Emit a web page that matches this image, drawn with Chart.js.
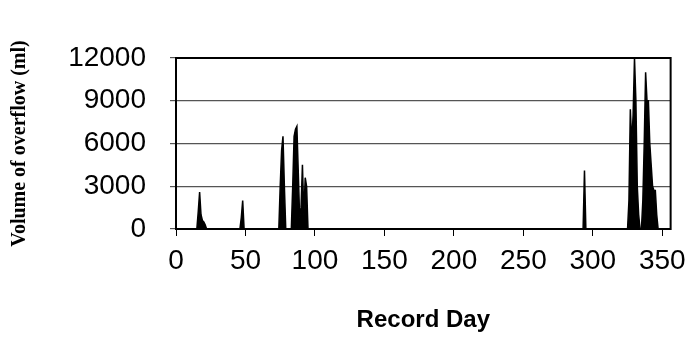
<!DOCTYPE html>
<html>
<head>
<meta charset="utf-8">
<script src="https://cdn.jsdelivr.net/npm/chart.js@4/dist/chart.umd.min.js"></script>
<style>
  html, body { margin: 0; padding: 0; background: #fff; }
  #wrap { width: 694px; height: 339px; }
</style>
</head>
<body>
<div id="wrap"><canvas id="overflowChart" width="694" height="339"></canvas></div>
<script>
// record days and overflow volume (ml)
const days = [
  0, 15, 16, 17, 18, 19, 20, 21, 22,
  46, 47, 48, 49,
  74, 75, 76, 77, 78, 79,
  83, 84, 85, 86, 87, 88, 89, 90, 91, 92, 93, 94, 95,
  293, 294, 295,
  325, 326, 327, 328, 329, 330, 331, 332, 333, 334,
  335, 336, 337, 338, 339, 340, 341, 342, 343, 344, 345, 346, 347,
  356
];
const volumes = [
  0, 0, 1200, 2600, 1000, 600, 500, 300, 0,
  0, 800, 2000, 0,
  0, 3000, 5500, 6500, 3000, 0,
  0, 3000, 6500, 7000, 7200, 4000, 800, 1500, 4500, 1000, 3600, 3000, 0,
  0, 4100, 0,
  0, 2000, 8400, 6000, 8000, 12000, 9000, 3000, 1000, 0,
  0, 2000, 6000, 11000, 9000, 9000, 6000, 4500, 3000, 2700, 2700, 1000, 0,
  0
];
const xTicks = [0, 50, 100, 150, 200, 250, 300, 350];
const yTicks = [0, 3000, 6000, 9000, 12000];

// 플롯 테두리
const frame = {
  id: 'frame',
  afterDraw(chart) {
    const { ctx, chartArea: a } = chart;
    ctx.save();
    ctx.strokeStyle = '#000';
    ctx.lineWidth = 2;
    ctx.strokeRect(a.left, a.top, a.right - a.left, a.bottom - a.top);
    ctx.restore();
  }
};

new Chart(document.getElementById('overflowChart'), {
  type: 'line',
  data: {
    datasets: [{
      data: days.map((d, i) => ({ x: d, y: volumes[i] })),
      borderColor: '#000',
      backgroundColor: '#000',
      borderWidth: 1.5,
      pointRadius: 0,
      fill: 'origin',
      tension: 0
    }]
  },
  plugins: [frame],
  options: {
    responsive: false,
    animation: false,
    layout: { padding: { left: 4, right: 21, top: 58, bottom: 0 } },
    plugins: { legend: { display: false }, tooltip: { enabled: false } },
    scales: {
      x: {
        type: 'linear',
        min: 0,
        max: 356,
        afterBuildTicks: s => { s.ticks = xTicks.map(v => ({ value: v })); },
        afterFit: s => { s.height = 110; },
        grid: { drawOnChartArea: false, color: '#000', tickLength: 7, tickWidth: 1 },
        border: { color: '#000', width: 2 },
        ticks: {
          color: '#000', padding: 8, maxRotation: 0,
          font: { family: 'Liberation Sans, Arial', size: 28 },
          callback: v => String(v)
        },
        title: {
          display: true,
          text: 'Record Day',
          color: '#000',
          padding: { top: 6 },
          font: { family: 'Liberation Sans, Arial', size: 24, weight: 'bold' }
        }
      },
      y: {
        min: 0,
        max: 12000,
        afterBuildTicks: s => { s.ticks = yTicks.map(v => ({ value: v })); },
        afterFit: s => { s.width = 172; },
        grid: { color: '#555', tickLength: 6, lineWidth: 1.2 },
        border: { color: '#000', width: 2 },
        ticks: {
          color: '#000', padding: 24,
          font: { family: 'Liberation Sans, Arial', size: 28 },
          callback: v => String(v)
        },
        title: {
          display: true,
          text: 'Volume of overflow (ml)',
          color: '#000',
          padding: { bottom: 4 },
          font: { family: 'Liberation Serif, Times New Roman', size: 20, weight: 'bold' }
        }
      }
    }
  }
});
</script>
</body>
</html>
